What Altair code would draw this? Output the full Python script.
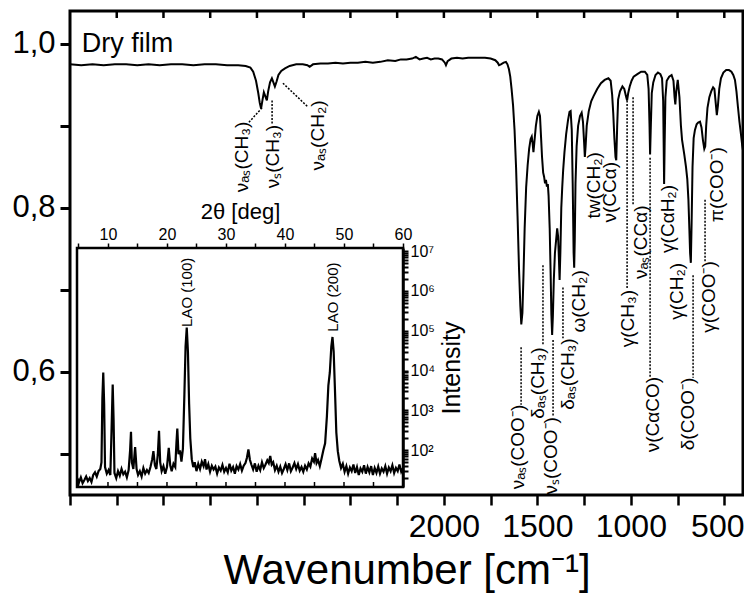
import altair as alt
import pandas as pd

# ---------------- IR spectrum (wavenumber, transmittance) ----------------
WN = [4000, 3940, 3880, 3820, 3760, 3700, 3640, 3580, 3520, 3460, 3400, 3340, 3280, 3220, 3160,
      3100, 3060, 3035, 3020, 3005, 2993, 2985, 2978, 2970, 2963, 2955, 2947, 2940, 2930, 2920,
      2912, 2904, 2895, 2885, 2870, 2850, 2825, 2790, 2755, 2730, 2718, 2700, 2660, 2620, 2580,
      2540, 2500, 2460, 2420, 2380, 2340, 2300, 2260, 2230, 2200, 2170, 2150, 2130, 2110, 2090,
      2070, 2050, 2030, 2010, 1995, 1989, 1980, 1960, 1930, 1900, 1870, 1840, 1810, 1780, 1750,
      1725, 1712, 1705, 1695, 1680, 1668, 1660, 1652, 1645, 1638, 1630, 1622, 1614, 1606, 1598,
      1591, 1586, 1580, 1574, 1568, 1560, 1552, 1544, 1536, 1530, 1525, 1521, 1516, 1508, 1500,
      1492, 1486, 1480, 1475, 1469, 1464, 1459, 1454, 1449, 1444, 1440, 1434, 1429, 1425, 1421,
      1417, 1412, 1406, 1400, 1394, 1389, 1385, 1381, 1377, 1372, 1367, 1362, 1355, 1346, 1336,
      1328, 1322, 1316, 1311, 1306, 1303, 1300, 1296, 1290, 1282, 1272, 1263, 1256, 1250, 1246,
      1242, 1236, 1225, 1212, 1200, 1180, 1160, 1140, 1120, 1108, 1100, 1094, 1088, 1082, 1078,
      1073, 1068, 1058, 1045, 1035, 1026, 1020, 1014, 1006, 996, 985, 965, 945, 925, 912,
      905, 900, 897, 893, 888, 880, 868, 855, 842, 833, 827, 824, 822, 819, 815,
      808, 795, 782, 772, 766, 762, 757, 749, 740, 732, 726, 714, 705, 698, 692,
      687, 683, 679, 675, 670, 664, 657, 648, 640, 630, 622, 614, 607, 602, 597,
      590, 580, 570, 560, 553, 546, 540, 534, 527, 518, 505, 490, 475, 462, 452,
      443, 435, 427, 419, 411, 404, 400]
TR = [0.975, 0.974, 0.975, 0.974, 0.975, 0.975, 0.974, 0.975, 0.974, 0.975, 0.975, 0.974, 0.975, 0.975, 0.974,
      0.974, 0.973, 0.971, 0.966, 0.955, 0.940, 0.928, 0.921, 0.932, 0.941, 0.936, 0.931, 0.942, 0.953, 0.958,
      0.953, 0.948, 0.954, 0.962, 0.967, 0.970, 0.973, 0.975, 0.975, 0.974, 0.972, 0.975, 0.976, 0.976, 0.977,
      0.976, 0.977, 0.977, 0.978, 0.977, 0.978, 0.980, 0.979, 0.981, 0.981, 0.982, 0.984, 0.981, 0.982, 0.983,
      0.981, 0.982, 0.982, 0.981, 0.977, 0.974, 0.979, 0.982, 0.983, 0.982, 0.983, 0.983, 0.983, 0.983, 0.982,
      0.980, 0.977, 0.974, 0.975, 0.977, 0.978, 0.975, 0.969, 0.960, 0.945, 0.925, 0.895, 0.850, 0.790, 0.725,
      0.680, 0.658, 0.672, 0.720, 0.775, 0.825, 0.852, 0.872, 0.884, 0.887, 0.878, 0.868, 0.880, 0.900, 0.912,
      0.917, 0.912, 0.885, 0.862, 0.843, 0.838, 0.830, 0.834, 0.826, 0.829, 0.815, 0.775, 0.720, 0.670, 0.645,
      0.668, 0.712, 0.745, 0.760, 0.775, 0.765, 0.740, 0.712, 0.745, 0.800, 0.825, 0.846, 0.868, 0.890, 0.907,
      0.917, 0.918, 0.895, 0.830, 0.745, 0.727, 0.760, 0.830, 0.875, 0.900, 0.912, 0.916, 0.905, 0.880, 0.862,
      0.875, 0.900, 0.918, 0.930, 0.936, 0.945, 0.952, 0.956, 0.958, 0.955, 0.938, 0.915, 0.885, 0.862, 0.858,
      0.900, 0.932, 0.942, 0.948, 0.945, 0.936, 0.931, 0.940, 0.948, 0.955, 0.960, 0.963, 0.966, 0.966, 0.962,
      0.945, 0.900, 0.865, 0.900, 0.940, 0.953, 0.962, 0.965, 0.963, 0.958, 0.930, 0.870, 0.829, 0.880, 0.935,
      0.955, 0.960, 0.962, 0.955, 0.935, 0.926, 0.942, 0.956, 0.935, 0.900, 0.883, 0.865, 0.850, 0.835, 0.810,
      0.775, 0.745, 0.733, 0.780, 0.850, 0.885, 0.895, 0.902, 0.904, 0.905, 0.898, 0.882, 0.872, 0.875, 0.900,
      0.922, 0.935, 0.942, 0.947, 0.945, 0.928, 0.913, 0.925, 0.945, 0.958, 0.965, 0.968, 0.968, 0.966, 0.962,
      0.956, 0.942, 0.923, 0.905, 0.890, 0.876, 0.870]

# ---------------- XRD inset (2theta, intensity) ----------------
TTH = [4.8, 5.1, 5.4, 5.7, 6.0, 6.3, 6.6, 6.9, 7.2, 7.5, 7.8, 8.1, 8.4, 8.7, 8.9, 9.05, 9.2, 9.35, 9.5, 9.8,
       10.1, 10.4, 10.6, 10.8, 10.95, 11.1, 11.4, 11.7, 12.0, 12.3, 12.6, 12.9, 13.2, 13.5, 13.75, 13.9, 14.05,
       14.3, 14.6, 14.85, 15.1, 15.4, 15.7, 16.0, 16.3, 16.6, 16.9, 17.2, 17.5, 17.7, 17.95, 18.2, 18.45, 18.65,
       18.85, 19.1, 19.4, 19.7, 20.0, 20.3, 20.55, 20.8, 21.1, 21.4, 21.6, 21.75, 21.95, 22.2, 22.45, 22.7,
       22.95, 23.15, 23.35, 23.55, 23.75, 23.95, 24.2, 24.45, 24.7, 25.0, 25.3, 25.6, 25.9, 26.2, 26.45, 26.7,
       27.0, 27.3, 27.6, 27.9, 28.2, 28.5, 28.8, 29.1, 29.4, 29.7, 30.0, 30.3, 30.6, 30.9, 31.2, 31.5, 31.8,
       32.1, 32.4, 32.7, 33.0, 33.3, 33.55, 33.8, 34.05, 34.3, 34.6, 34.9, 35.2, 35.5, 35.8, 36.1, 36.4, 36.7,
       37.0, 37.25, 37.5, 37.75, 38.0, 38.3, 38.6, 38.9, 39.2, 39.5, 39.8, 40.1, 40.4, 40.7, 41.0, 41.3, 41.6,
       41.9, 42.2, 42.5, 42.8, 43.1, 43.4, 43.7, 44.0, 44.3, 44.6, 44.9, 45.1, 45.35, 45.6, 45.9, 46.2, 46.5,
       46.8, 47.1, 47.35, 47.6, 47.85, 48.05, 48.25, 48.45, 48.7, 48.95, 49.2, 49.5, 49.8, 50.1, 50.4, 50.7,
       51.0, 51.3, 51.6, 51.9, 52.2, 52.5, 52.8, 53.1, 53.4, 53.7, 54.0, 54.3, 54.6, 54.9, 55.2, 55.5, 55.8,
       56.1, 56.4, 56.7, 57.0, 57.3, 57.6, 57.9, 58.2, 58.5, 58.8, 59.1, 59.4, 59.7, 59.95]
INT = [20, 16, 21, 15, 18, 22, 17, 20, 16, 24, 28, 22, 30, 34, 50, 2000, 9000, 1500, 38, 26,
       32, 24, 300, 4500, 600, 27, 20, 30, 23, 34, 25, 29, 21, 32, 100, 290, 50,
       34, 120, 34, 24, 30, 22, 36, 26, 32, 27, 38, 60, 95, 42, 34, 80, 310,
       50, 30, 40, 26, 38, 115, 42, 30, 46, 38, 150, 350, 80, 100, 52, 110,
       2500, 40000, 120000, 30000, 1500, 200, 60, 38, 50, 30, 46, 34, 52, 40, 60, 33,
       45, 29, 41, 33, 39, 26, 37, 31, 43, 29, 36, 28, 46, 31, 38, 26, 40,
       33, 45, 31, 41, 48, 65, 105, 58, 44, 33, 47, 29, 41, 32, 50, 36, 44,
       56, 48, 72, 44, 50, 32, 41, 29, 39, 27, 34, 45, 32, 47, 30, 37, 48,
       34, 45, 31, 38, 29, 41, 33, 47, 39, 62, 52, 85, 48, 57, 40, 62, 100,
       150, 700, 4200, 9000, 40000, 70000, 30000, 4000, 280, 95, 55, 36, 46, 29, 40, 26,
       37, 30, 44, 27, 38, 24, 35, 29, 42, 26, 38, 28, 40, 24, 36, 27, 39,
       26, 35, 29, 40, 26, 37, 30, 42, 27, 36, 30, 44, 29, 35]

# ---------------- band assignments ----------------
ANN_LABEL = ["νₐₛ(CH₃)", "νₛ(CH₃)", "νₐₛ(CH₂)",
             "νₐₛ(COO⁻)", "δₐₛ(CH₃)", "νₛ(COO⁻)", "δₐₛ(CH₃)", "ω(CH₂)", "tw(CH₂)", "ν(CCα)",
             "γ(CH₃)", "νₐₛ(CCα)", "ν(CαCO)", "γ(CαH₂)", "γ(CH₂)", "δ(COO⁻)", "γ(COO⁻)", "π(COO⁻)"]
ANN_WN = [3080, 2914, 2673,
          1604, 1497, 1427, 1336, 1277, 1197, 1111,
          1015, 946, 881, 801, 753, 694, 582, 539]
ANN_VAL = [0.905, 0.901, 0.931,
           0.560, 0.630, 0.545, 0.641, 0.724, 0.868, 0.856,
           0.700, 0.803, 0.594, 0.828, 0.733, 0.593, 0.735, 0.874]

# dotted leader lines (start wn, start value, end wn, end value)
LEAD_WN1 = [2973, 2919, 2861, 1587, 1470, 1416, 1363, 1020, 988, 897, 667, 603]
LEAD_V1 = [0.922, 0.931, 0.952, 0.630, 0.730, 0.639, 0.703, 0.931, 0.935, 0.861, 0.718, 0.810]
LEAD_WN2 = [3048, 2919, 2727, 1587, 1470, 1416, 1363, 1020, 988, 897, 667, 603]
LEAD_V2 = [0.903, 0.901, 0.923, 0.560, 0.632, 0.545, 0.641, 0.702, 0.803, 0.594, 0.593, 0.735]

X_TICKS = [4000, 3750, 3500, 3250, 3000, 2750, 2500, 2250, 2000, 1750, 1500, 1250, 1000, 750, 500]
Y_TICKS = [0.5, 0.6, 0.7, 0.8, 0.9, 1.0]
INSET_X_TICKS = [5, 10, 15, 20, 25, 30, 35, 40, 45, 50, 55, 60]
INSET_Y_TICKS = [100, 1000, 10000, 100000, 1000000, 10000000]
INSET_Y_MINOR = [20, 30, 40, 50, 60, 70, 80, 90,
                 200, 300, 400, 500, 600, 700, 800, 900,
                 2000, 3000, 4000, 5000, 6000, 7000, 8000, 9000,
                 20000, 30000, 40000, 50000, 60000, 70000, 80000, 90000,
                 200000, 300000, 400000, 500000, 600000, 700000, 800000, 900000,
                 2000000, 3000000, 4000000, 5000000, 6000000, 7000000, 8000000, 9000000]

LAO_LABEL = ["LAO (100)", "LAO (200)"]
LAO_TTH = [23.4, 48.1]
LAO_INT = [125000, 95000]

FONT = "Liberation Sans"

ir = pd.DataFrame({"wn": WN, "t": TR})
xrd = pd.DataFrame({"tth": TTH, "i": INT})
ann = pd.DataFrame({"label": ANN_LABEL, "wn": ANN_WN, "v": ANN_VAL})
lead = pd.DataFrame({"w1": LEAD_WN1, "v1": LEAD_V1, "w2": LEAD_WN2, "v2": LEAD_V2})
topt = pd.DataFrame({"wn": X_TICKS[1:]})
lao = pd.DataFrame({"label": LAO_LABEL, "tth": LAO_TTH, "i": LAO_INT})
inx = pd.DataFrame({"tth": INSET_X_TICKS[:-1]})

def xs():
    return alt.Scale(domain=[400, 4000], reverse=True, nice=False, zero=False)

def ys():
    return alt.Scale(domain=[0.45, 1.04], nice=False, zero=False)

def ixs():
    return alt.Scale(domain=[4.75, 60], range=[7, 333], nice=False, zero=False)

def iys():
    return alt.Scale(type="log", domain=[12, 12000000], range=[476, 237], nice=False)

label_expr_x = "indexof([2000,1500,1000,500], datum.value) >= 0 ? format(datum.value, 'd') : ''"
label_expr_y = "datum.value == 1 ? '1,0' : (datum.value == 0.8 ? '0,8' : (datum.value == 0.6 ? '0,6' : ''))"

spectrum = alt.Chart(ir).mark_line(color="black", strokeWidth=2).encode(
    x=alt.X("wn:Q", scale=xs(), axis=alt.Axis(
        orient="bottom", values=X_TICKS, labelExpr=label_expr_x, domain=False, tickSize=10,
        tickWidth=2.5, tickColor="black", labelFontSize=32, labelFont=FONT, labelColor="black",
        labelPadding=6, labelFlush=False, labelOverlap=False, grid=False,
        labelOffset={"condition": {"test": "datum.value == 500", "value": -7}, "value": 0},
        title="Wavenumber [cm⁻¹]", titleFont=FONT, titleFontSize=42, titleFontWeight="normal",
        titleColor="black", titlePadding=8)),
    y=alt.Y("t:Q", scale=ys(), axis=alt.Axis(
        orient="left", values=Y_TICKS, labelExpr=label_expr_y, domain=False, tickSize=10,
        tickWidth=3, tickColor="black", labelFontSize=31, labelFont=FONT, labelColor="black",
        labelPadding=5, labelFlush=False, labelOverlap=False, grid=False, title="")),
    order=alt.Order("wn:Q", sort="descending"),
)

top_ticks = alt.Chart(topt).mark_rule(color="black", strokeWidth=2.5).encode(
    x=alt.X("wn:Q", scale=xs(), axis=None),
    y=alt.value(0), y2=alt.value(7),
)

leaders = alt.Chart(lead).mark_rule(color="black", strokeWidth=1.5, strokeDash=[2, 1.5]).encode(
    x=alt.X("w1:Q", scale=xs(), axis=None), y=alt.Y("v1:Q", scale=ys(), axis=None),
    x2="w2:Q", y2="v2:Q",
)

labels = alt.Chart(ann).mark_text(angle=270, align="right", baseline="middle",
                                  fontSize=19, font=FONT, color="black").encode(
    x=alt.X("wn:Q", scale=xs(), axis=None), y=alt.Y("v:Q", scale=ys(), axis=None), text="label:N",
)

dry = alt.Chart(pd.DataFrame({"wn": [3937], "v": [1.0], "t": ["Dry film"]})).mark_text(
    align="left", baseline="middle", fontSize=27, font=FONT, color="black").encode(
    x=alt.X("wn:Q", scale=xs(), axis=None), y=alt.Y("v:Q", scale=ys(), axis=None), text="t:N")

# ---- inset ----
sup = "{'100':'10²','1000':'10³','10000':'10⁴','100000':'10⁵','1000000':'10⁶','10000000':'10⁷'}"
label_expr_iy = ("indexof([100,1000,10000,100000,1000000,10000000], datum.value) >= 0 ? "
                 + sup + "[format(datum.value, 'd')] : ''")
label_expr_ix = "datum.value % 10 == 0 ? format(datum.value, 'd') : ''"

frame = alt.Chart(pd.DataFrame({"a": [4.75], "b": [60], "c": [12], "d": [12000000]})).mark_rect(
    fill="white", stroke="black", strokeWidth=2.5).encode(
    x=alt.X("a:Q", scale=ixs(), axis=alt.Axis(
        orient="top", offset=-237, values=INSET_X_TICKS, labelExpr=label_expr_ix,
        domainWidth=2.5, domainColor="black", tickSize=5, tickWidth=1.5, tickColor="black",
        labelFontSize=16, labelFont=FONT, labelColor="black", labelPadding=1, labelFlush=False,
        labelOverlap=False, grid=False,
        title="2θ [deg]", titleFont=FONT, titleFontSize=22, titleFontWeight="normal",
        titleColor="black", titlePadding=3)),
    x2="b:Q",
    y=alt.Y("c:Q", scale=iys(), axis=alt.Axis(
        orient="right", offset=-340, values=INSET_Y_TICKS + INSET_Y_MINOR, labelExpr=label_expr_iy,
        domainWidth=2.5, domainColor="black", tickSize=5, tickWidth=2, tickColor="black",
        labelFontSize=16, labelFont=FONT, labelColor="black", labelPadding=2, labelFlush=False,
        labelOverlap=False, grid=False,
        title="Intensity", titleFont=FONT, titleFontSize=25, titleFontWeight="normal",
        titleColor="black", titleAngle=270, titlePadding=30)),
    y2="d:Q",
)

xrd_line = alt.Chart(xrd).mark_line(color="black", strokeWidth=2.2).encode(
    x=alt.X("tth:Q", scale=ixs(), axis=None), y=alt.Y("i:Q", scale=iys(), axis=None),
    order="tth:Q",
)

inset_ticks = alt.Chart(inx).mark_rule(color="black", strokeWidth=1.5).encode(
    x=alt.X("tth:Q", scale=ixs(), axis=None), y=alt.value(471), y2=alt.value(476),
)

lao_text = alt.Chart(lao).mark_text(angle=270, align="left", baseline="middle",
                                    fontSize=15, font=FONT, color="black").encode(
    x=alt.X("tth:Q", scale=ixs(), axis=None), y=alt.Y("i:Q", scale=iys(), axis=None),
    text="label:N",
)

chart = alt.layer(
    spectrum, top_ticks, leaders, labels, dry, frame, xrd_line, inset_ticks, lao_text
).resolve_scale(x="independent", y="independent").properties(
    width=673, height=484,
    autosize=alt.AutoSizeParams(type="none"),
    padding={"left": 62, "top": 3, "right": 1, "bottom": 100},
).configure_view(stroke="black", strokeWidth=3)

chart.save("out.html", embed_options={"renderer": "svg", "actions": False})
